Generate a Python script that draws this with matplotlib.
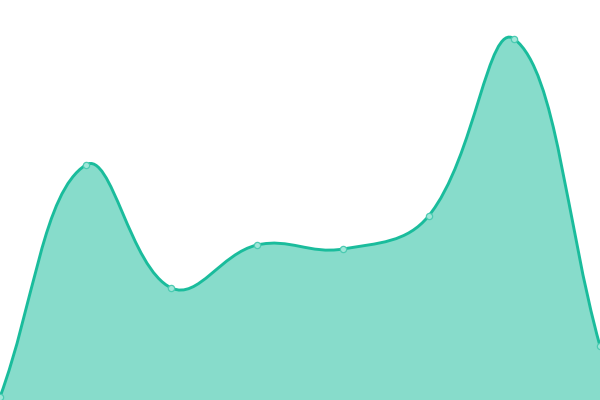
import numpy as np
import matplotlib.pyplot as plt
from matplotlib.path import Path
from matplotlib.patches import PathPatch

# values
x_vals = [0, 1, 2, 3, 4, 5, 6, 7]
y_vals = [3, 235, 112, 155, 151, 184, 361, 54]

line_color = "#1abc9c"
tension = 0.4


def spline_path(xs, ys, sx, sy, close_to=None):
    # chart.js-like cardinal spline, distances measured in pixel scale
    pts = np.column_stack([xs, ys]).astype(float)
    n = len(pts)
    cps = []
    for i in range(n):
        prev = pts[max(i - 1, 0)]
        cur = pts[i]
        nxt = pts[min(i + 1, n - 1)]
        d01 = np.hypot((cur[0] - prev[0]) * sx, (cur[1] - prev[1]) * sy)
        d12 = np.hypot((nxt[0] - cur[0]) * sx, (nxt[1] - cur[1]) * sy)
        tot = d01 + d12
        fa = tension * d01 / tot if tot else 0
        fb = tension * d12 / tot if tot else 0
        cps.append((cur - fa * (nxt - prev), cur + fb * (nxt - prev)))
    verts = [pts[0]]
    codes = [Path.MOVETO]
    for i in range(1, n):
        verts += [cps[i - 1][1], cps[i][0], pts[i]]
        codes += [Path.CURVE4] * 3
    if close_to is not None:
        verts += [(xs[-1], close_to), (xs[0], close_to), pts[0]]
        codes += [Path.LINETO, Path.LINETO, Path.CLOSEPOLY]
    return Path(verts, codes)


fig = plt.figure(figsize=(6, 4), dpi=100)
ax = fig.add_axes([0, 0, 1, 1])
ax.set_xlim(0, 7)
ax.set_ylim(0, 400)
ax.axis("off")

sx = 600 / 7
sy = 400 / 400

fill = PathPatch(spline_path(x_vals, y_vals, sx, sy, close_to=0),
                 facecolor=line_color, alpha=0.52, edgecolor="none")
ax.add_patch(fill)
line = PathPatch(spline_path(x_vals, y_vals, sx, sy),
                 facecolor="none", edgecolor=line_color, lw=2.1)
ax.add_patch(line)
ax.plot(x_vals, y_vals, "o", ms=4.5, mfc="#9fe6d8", mec="#4ccbb2", mew=0.9, clip_on=False)

plt.savefig("out.png", dpi=100)
